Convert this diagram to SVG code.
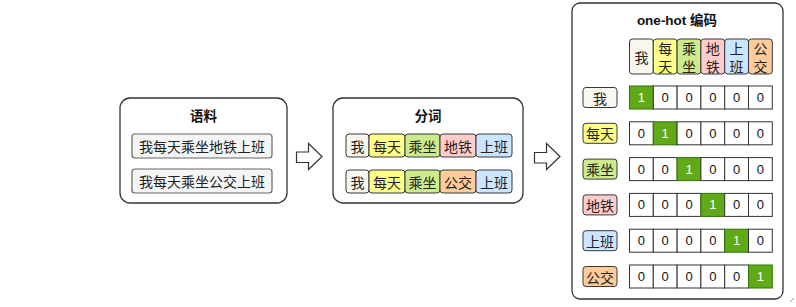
<svg xmlns="http://www.w3.org/2000/svg" width="796" height="307" viewBox="0 0 796 307">
<style>
.panel{fill:#ffffff;stroke:#333333;stroke-width:1.3}
.t{font-family:"Noto Sans CJK SC","Liberation Sans",sans-serif;font-size:14px;fill:#222;text-anchor:middle;dominant-baseline:central}
.h{font-family:"Noto Sans CJK SC","Liberation Sans",sans-serif;font-size:14px;fill:#222;text-anchor:middle}
.title{font-family:"Liberation Sans","Noto Sans CJK SC",sans-serif;font-size:13.5px;font-weight:bold;fill:#111;text-anchor:middle;dominant-baseline:central}
.n{font-family:"Liberation Sans",Arial,sans-serif;font-size:13px;fill:#111;text-anchor:middle;dominant-baseline:central}
.n1{fill:#ffffff}
.grey{fill:#f5f5f5;stroke:#666666;stroke-width:1.2}
.c0{fill:#f9f7ed;stroke:#36393d;stroke-width:1}
.c1{fill:#ffff88;stroke:#36393d;stroke-width:1}
.c2{fill:#cdeb8b;stroke:#36393d;stroke-width:1}
.c3{fill:#ffcccc;stroke:#36393d;stroke-width:1}
.c4{fill:#cce5ff;stroke:#36393d;stroke-width:1}
.c5{fill:#ffcc99;stroke:#36393d;stroke-width:1}
.cell{fill:#ffffff;stroke:#333333;stroke-width:1}
.on{fill:#60a917;stroke:#2d7600;stroke-width:1}
.arrow{fill:#ffffff;stroke:#333333;stroke-width:1.2;stroke-linejoin:miter}
</style>

<g id="corpus">
  <rect class="panel" x="120" y="98" width="167" height="105" rx="10"/>
  <text class="title" x="203.5" y="116">语料</text>
  <rect class="grey" x="132" y="134" width="140" height="24" rx="3"/>
  <text class="t" x="202" y="146">我每天乘坐地铁上班</text>
  <rect class="grey" x="132" y="169" width="140" height="24" rx="3"/>
  <text class="t" x="202" y="181">我每天乘坐公交上班</text>
</g>

<g id="segmentation">
  <rect class="panel" x="333" y="98" width="190" height="105" rx="10"/>
  <text class="title" x="428" y="116">分词</text>
  <rect class="c0" x="346" y="134" width="23" height="23" rx="3"/><text class="t" x="357.5" y="145.5">我</text>
  <rect class="c1" x="369" y="134" width="36" height="23" rx="3"/><text class="t" x="387" y="145.5">每天</text>
  <rect class="c2" x="405" y="134" width="35" height="23" rx="3"/><text class="t" x="422.5" y="145.5">乘坐</text>
  <rect class="c3" x="440" y="134" width="36" height="23" rx="3"/><text class="t" x="458" y="145.5">地铁</text>
  <rect class="c4" x="476" y="134" width="36" height="23" rx="3"/><text class="t" x="494" y="145.5">上班</text>
  <rect class="c0" x="346" y="170" width="23" height="23" rx="3"/><text class="t" x="357.5" y="181.5">我</text>
  <rect class="c1" x="369" y="170" width="36" height="23" rx="3"/><text class="t" x="387" y="181.5">每天</text>
  <rect class="c2" x="405" y="170" width="35" height="23" rx="3"/><text class="t" x="422.5" y="181.5">乘坐</text>
  <rect class="c5" x="440" y="170" width="36" height="23" rx="3"/><text class="t" x="458" y="181.5">公交</text>
  <rect class="c4" x="476" y="170" width="36" height="23" rx="3"/><text class="t" x="494" y="181.5">上班</text>
</g>

<g id="onehot">
  <rect class="panel" x="572" y="3" width="211" height="296" rx="8"/>
  <text class="title" x="677" y="20">one-hot 编码</text>
  <!-- header -->
  <rect class="c0" x="629.5" y="39" width="23.8" height="35" rx="3"/><text class="t" x="641.4" y="56.5">我</text>
  <rect class="c1" x="653.3" y="39" width="23.8" height="35" rx="3"/><text class="h" x="665.2"><tspan x="665.2" y="53.5">每</tspan><tspan x="665.2" y="71.5">天</tspan></text>
  <rect class="c2" x="677.1" y="39" width="23.8" height="35" rx="3"/><text class="h" x="689"><tspan x="689" y="53.5">乘</tspan><tspan x="689" y="71.5">坐</tspan></text>
  <rect class="c3" x="700.9" y="39" width="23.8" height="35" rx="3"/><text class="h" x="712.8"><tspan x="712.8" y="53.5">地</tspan><tspan x="712.8" y="71.5">铁</tspan></text>
  <rect class="c4" x="724.7" y="39" width="23.8" height="35" rx="3"/><text class="h" x="736.6"><tspan x="736.6" y="53.5">上</tspan><tspan x="736.6" y="71.5">班</tspan></text>
  <rect class="c5" x="748.5" y="39" width="23.8" height="35" rx="3"/><text class="h" x="760.4"><tspan x="760.4" y="53.5">公</tspan><tspan x="760.4" y="71.5">交</tspan></text>

  <!-- row labels -->
  <rect class="c0" x="583" y="87.5" width="34" height="20" rx="3"/><text class="t" x="600" y="97.5">我</text>
  <rect class="c1" x="583" y="123.3" width="34" height="20" rx="3"/><text class="t" x="600" y="133.3">每天</text>
  <rect class="c2" x="583" y="159.1" width="34" height="20" rx="3"/><text class="t" x="600" y="169.1">乘坐</text>
  <rect class="c3" x="583" y="194.9" width="34" height="20" rx="3"/><text class="t" x="600" y="204.9">地铁</text>
  <rect class="c4" x="583" y="230.7" width="34" height="20" rx="3"/><text class="t" x="600" y="240.7">上班</text>
  <rect class="c5" x="583" y="266.5" width="34" height="20" rx="3"/><text class="t" x="600" y="276.5">公交</text>

  <!-- grid rows -->
  <g id="row1">
    <rect class="on" x="629.5" y="86" width="23.8" height="23"/><text class="n n1" x="641.4" y="97.5">1</text>
    <rect class="cell" x="653.3" y="86" width="23.8" height="23"/><text class="n" x="665.2" y="97.5">0</text>
    <rect class="cell" x="677.1" y="86" width="23.8" height="23"/><text class="n" x="689" y="97.5">0</text>
    <rect class="cell" x="700.9" y="86" width="23.8" height="23"/><text class="n" x="712.8" y="97.5">0</text>
    <rect class="cell" x="724.7" y="86" width="23.8" height="23"/><text class="n" x="736.6" y="97.5">0</text>
    <rect class="cell" x="748.5" y="86" width="23.8" height="23"/><text class="n" x="760.4" y="97.5">0</text>
  </g>
  <g id="row2">
    <rect class="cell" x="629.5" y="121.8" width="23.8" height="23"/><text class="n" x="641.4" y="133.3">0</text>
    <rect class="on" x="653.3" y="121.8" width="23.8" height="23"/><text class="n n1" x="665.2" y="133.3">1</text>
    <rect class="cell" x="677.1" y="121.8" width="23.8" height="23"/><text class="n" x="689" y="133.3">0</text>
    <rect class="cell" x="700.9" y="121.8" width="23.8" height="23"/><text class="n" x="712.8" y="133.3">0</text>
    <rect class="cell" x="724.7" y="121.8" width="23.8" height="23"/><text class="n" x="736.6" y="133.3">0</text>
    <rect class="cell" x="748.5" y="121.8" width="23.8" height="23"/><text class="n" x="760.4" y="133.3">0</text>
  </g>
  <g id="row3">
    <rect class="cell" x="629.5" y="157.6" width="23.8" height="23"/><text class="n" x="641.4" y="169.1">0</text>
    <rect class="cell" x="653.3" y="157.6" width="23.8" height="23"/><text class="n" x="665.2" y="169.1">0</text>
    <rect class="on" x="677.1" y="157.6" width="23.8" height="23"/><text class="n n1" x="689" y="169.1">1</text>
    <rect class="cell" x="700.9" y="157.6" width="23.8" height="23"/><text class="n" x="712.8" y="169.1">0</text>
    <rect class="cell" x="724.7" y="157.6" width="23.8" height="23"/><text class="n" x="736.6" y="169.1">0</text>
    <rect class="cell" x="748.5" y="157.6" width="23.8" height="23"/><text class="n" x="760.4" y="169.1">0</text>
  </g>
  <g id="row4">
    <rect class="cell" x="629.5" y="193.4" width="23.8" height="23"/><text class="n" x="641.4" y="204.9">0</text>
    <rect class="cell" x="653.3" y="193.4" width="23.8" height="23"/><text class="n" x="665.2" y="204.9">0</text>
    <rect class="cell" x="677.1" y="193.4" width="23.8" height="23"/><text class="n" x="689" y="204.9">0</text>
    <rect class="on" x="700.9" y="193.4" width="23.8" height="23"/><text class="n n1" x="712.8" y="204.9">1</text>
    <rect class="cell" x="724.7" y="193.4" width="23.8" height="23"/><text class="n" x="736.6" y="204.9">0</text>
    <rect class="cell" x="748.5" y="193.4" width="23.8" height="23"/><text class="n" x="760.4" y="204.9">0</text>
  </g>
  <g id="row5">
    <rect class="cell" x="629.5" y="229.2" width="23.8" height="23"/><text class="n" x="641.4" y="240.7">0</text>
    <rect class="cell" x="653.3" y="229.2" width="23.8" height="23"/><text class="n" x="665.2" y="240.7">0</text>
    <rect class="cell" x="677.1" y="229.2" width="23.8" height="23"/><text class="n" x="689" y="240.7">0</text>
    <rect class="cell" x="700.9" y="229.2" width="23.8" height="23"/><text class="n" x="712.8" y="240.7">0</text>
    <rect class="on" x="724.7" y="229.2" width="23.8" height="23"/><text class="n n1" x="736.6" y="240.7">1</text>
    <rect class="cell" x="748.5" y="229.2" width="23.8" height="23"/><text class="n" x="760.4" y="240.7">0</text>
  </g>
  <g id="row6">
    <rect class="cell" x="629.5" y="265" width="23.8" height="23"/><text class="n" x="641.4" y="276.5">0</text>
    <rect class="cell" x="653.3" y="265" width="23.8" height="23"/><text class="n" x="665.2" y="276.5">0</text>
    <rect class="cell" x="677.1" y="265" width="23.8" height="23"/><text class="n" x="689" y="276.5">0</text>
    <rect class="cell" x="700.9" y="265" width="23.8" height="23"/><text class="n" x="712.8" y="276.5">0</text>
    <rect class="cell" x="724.7" y="265" width="23.8" height="23"/><text class="n" x="736.6" y="276.5">0</text>
    <rect class="on" x="748.5" y="265" width="23.8" height="23"/><text class="n n1" x="760.4" y="276.5">1</text>
  </g>
</g>

<g id="connectors">
  <path class="arrow" d="M296.5,152 L308.5,152 L308.5,143.5 L322,156.5 L308.5,169.5 L308.5,162.5 L296.5,162.5 Z"/>
  <path class="arrow" d="M534.5,152.5 L546.5,152.5 L546.5,143.5 L560,156.5 L546.5,169.5 L546.5,163 L534.5,163 Z"/>
</g>
<path d="M790,302 L794,298" stroke="#999" stroke-width="1" fill="none"/>
</svg>
